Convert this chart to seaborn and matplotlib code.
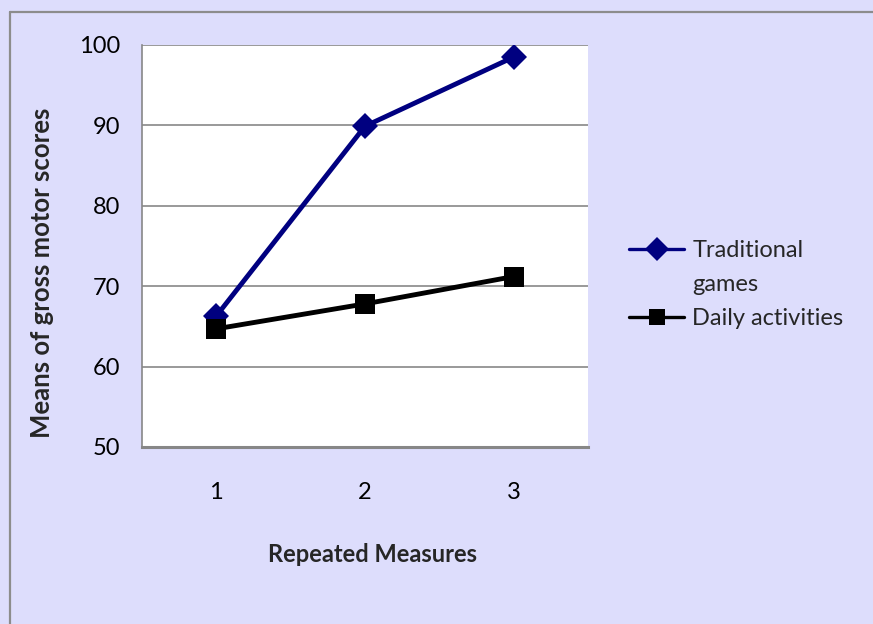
import matplotlib
matplotlib.use("Agg")
import matplotlib.pyplot as plt
import seaborn as sns
import pandas as pd

# values
measures = [1, 2, 3]
traditional_games = [66.3, 89.9, 98.5]
daily_activities = [64.7, 67.8, 71.2]
group_names = ["Traditional games", "Daily activities"]
y_ticks = [50, 60, 70, 80, 90, 100]

df = pd.DataFrame({
    "Measure": measures * 2,
    "Score": traditional_games + daily_activities,
    "Group": [group_names[0]] * 3 + [group_names[1]] * 3,
})

sns.set_style("white")
plt.rcParams["font.family"] = ["Lato", "DejaVu Sans"]

BG = "#DDDDFC"
GRID = "#878787"
NAVY = "#000080"

fig = plt.figure(figsize=(8.73, 6.24), dpi=100, facecolor=BG)
# outer chart border: only top and left edges show in the crop
y_top = 1 - 11.5 / 624
x_left = 10 / 873
fig.add_artist(plt.Line2D([x_left, 1.0], [y_top, y_top], transform=fig.transFigure,
                          color="#8C8C8C", lw=1.6))
fig.add_artist(plt.Line2D([x_left, x_left], [0, y_top], transform=fig.transFigure,
                          color="#8C8C8C", lw=1.6))

ax = fig.add_axes([142 / 873, 1 - 447 / 624, 446 / 873, 402 / 624])
ax.set_facecolor("white")

sns.lineplot(
    data=df, x="Measure", y="Score", hue="Group", style="Group",
    hue_order=group_names, style_order=group_names,
    palette=[NAVY, "black"], markers=["D", "s"], dashes=False,
    linewidth=3.5, markersize=13, markeredgewidth=0, legend=False, ax=ax,
)
# squares a bit bigger than diamonds
ax.lines[1].set_markersize(15)

ax.set_xlim(0.5, 3.5)
ax.set_ylim(50, 100)
ax.set_yticks(y_ticks)
ax.yaxis.grid(True, color=GRID, linewidth=1.2)
ax.set_axisbelow(True)

for s in ["top", "right"]:
    ax.spines[s].set_visible(False)
ax.spines["left"].set_color(GRID)
ax.spines["left"].set_linewidth(1.2)
ax.spines["bottom"].set_color(GRID)
ax.spines["bottom"].set_linewidth(2.2)

ax.tick_params(axis="y", length=5, width=1.2, color=GRID, pad=11,
               labelsize=17, labelcolor="black")
# category boundaries as major ticks, labels on minor ticks
ax.set_xticks([0.5, 1.5, 2.5, 3.5])
ax.set_xticklabels([])
ax.set_xticks(measures, minor=True)
ax.set_xticklabels([str(m) for m in measures], minor=True)
ax.tick_params(axis="x", which="major", length=6, width=1.2, color=GRID)
ax.tick_params(axis="x", which="minor", length=0, pad=25, labelsize=17,
               labelcolor="black")
ax.set_xlabel("")
ax.set_ylabel("")

fig.text(372 / 873, 1 - 554 / 624, "Repeated Measures", ha="center",
         va="center", fontsize=17, fontweight="bold")
fig.text(42 / 873, 1 - 273 / 624, "Means of gross motor scores",
         rotation=90, ha="center", va="center", fontsize=18.5,
         fontweight="bold")

# legend label wraps over two lines like the original; second line gets a blank handle
handles = [
    plt.Line2D([], [], color=NAVY, marker="D", lw=2.4, ms=12, mew=0),
    plt.Line2D([], [], alpha=0),
    plt.Line2D([], [], color="black", marker="s", lw=2.4, ms=12, mew=0),
]
labels = ["Traditional", "games", group_names[1]]
fig.legend(handles, labels, loc="upper left",
           bbox_to_anchor=(620 / 873, 1 - 231 / 624), frameon=False,
           fontsize=17, handlelength=2.33, handletextpad=0.34,
           labelspacing=0.55, borderaxespad=0)

fig.savefig("out.png", dpi=100, facecolor=BG)
